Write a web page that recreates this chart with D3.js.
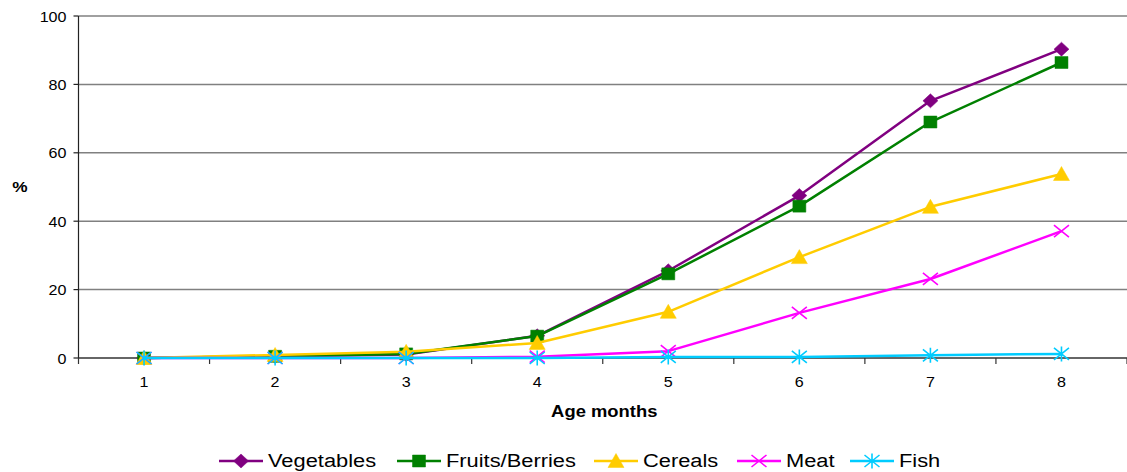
<!DOCTYPE html>
<html>
<head>
<meta charset="utf-8">
<script src="https://cdn.jsdelivr.net/npm/d3@7"></script>
<style>
  body { margin: 0; background: #fff; }
  svg { display: block; font-family: "Liberation Sans", Arial, sans-serif; }
</style>
</head>
<body>
<svg id="chart" width="1127" height="472"></svg>
<script>
const months = ['1', '2', '3', '4', '5', '6', '7', '8'];
const vegetables = [0, 0.5, 1, 6.5, 25.5, 47.5, 75.2, 90.3];
const fruitsBerries = [0, 0.5, 1.2, 6.4, 24.6, 44.4, 69, 86.4];
const cereals = [0, 0.9, 1.8, 4.4, 13.5, 29.5, 44.2, 53.8];
const meat = [0, 0, 0, 0.4, 2, 13.2, 23.1, 37.1];
const fish = [0, 0, 0, 0, 0.3, 0.3, 0.8, 1.2];
const yTicks = [0, 20, 40, 60, 80, 100];

const series = [
  { name: 'Vegetables', values: vegetables, color: '#800080', marker: 'diamond' },
  { name: 'Fruits/Berries', values: fruitsBerries, color: '#008000', marker: 'square' },
  { name: 'Cereals', values: cereals, color: '#FFCC00', marker: 'triangle' },
  { name: 'Meat', values: meat, color: '#FF00FF', marker: 'cross' },
  { name: 'Fish', values: fish, color: '#00CCFF', marker: 'star' }
];

const svg = d3.select('#chart');
const plotLeft = 78.5, plotRight = 1127, plotTop = 16, plotBottom = 358;
const sx = 1.15; // the original is stretched sideways a bit

const x = d3.scaleBand().domain(months).range([plotLeft, plotRight]);
const y = d3.scaleLinear().domain([0, 100]).range([plotBottom, plotTop]);

// text helper, stretched horizontally like the picture
function label(g, tx, ty, str, opts) {
  return g.append('text')
    .attr('transform', `translate(${tx},${ty}) scale(${sx},1)`)
    .attr('text-anchor', opts.anchor || 'middle')
    .attr('font-size', opts.size || 14)
    .attr('font-weight', opts.bold ? 'bold' : 'normal')
    .attr('fill', '#000')
    .text(str);
}

// grid
svg.append('g').selectAll('line').data(yTicks.filter(d => d > 0)).join('line')
  .attr('x1', plotLeft).attr('x2', plotRight)
  .attr('y1', d => y(d)).attr('y2', d => y(d))
  .attr('stroke', '#808080').attr('stroke-width', 1.5);

// y axis
const yAxis = svg.append('g');
yAxis.append('line').attr('x1', plotLeft).attr('x2', plotLeft).attr('y1', plotTop).attr('y2', plotBottom)
  .attr('stroke', '#222').attr('stroke-width', 1.2);
yAxis.selectAll('line.tick').data(yTicks).join('line').attr('class', 'tick')
  .attr('x1', plotLeft - 5).attr('x2', plotLeft).attr('y1', d => y(d)).attr('y2', d => y(d))
  .attr('stroke', '#222').attr('stroke-width', 1.2);
yTicks.forEach(d => label(yAxis, plotLeft - 12, y(d) + 5.5, d, { anchor: 'end', size: 14 }));
label(yAxis, 20, 192, '%', { bold: true, size: 15 });

// x axis
const xAxis = svg.append('g');
xAxis.append('line').attr('x1', plotLeft).attr('x2', plotRight).attr('y1', plotBottom).attr('y2', plotBottom)
  .attr('stroke', '#333').attr('stroke-width', 1.5);
const bounds = months.map(m => x(m)).concat([plotRight]);
xAxis.selectAll('line.tick').data(bounds).join('line').attr('class', 'tick')
  .attr('x1', d => d).attr('x2', d => d).attr('y1', plotBottom).attr('y2', plotBottom + 6)
  .attr('stroke', '#333').attr('stroke-width', 1.2);
months.forEach(m => label(xAxis, x(m) + x.bandwidth() / 2, plotBottom + 28.5, m, { size: 14 }));
label(xAxis, (plotLeft + plotRight) / 2 + 1.5, 417, 'Age months', { bold: true, size: 16 });

// markers
function markerPath(type) {
  switch (type) {
    case 'diamond': return 'M0,-7L7.5,0L0,7L-7.5,0Z';
    case 'square': return 'M-6.5,-6L6.5,-6L6.5,6L-6.5,6Z';
    case 'triangle': return 'M0,-7.5L8,6.5L-8,6.5Z';
    case 'cross': return 'M-7.5,-6L7.5,6M-7.5,6L7.5,-6';
    case 'star': return 'M-7.5,-6L7.5,6M-7.5,6L7.5,-6M0,-7.5L0,7.5';
  }
}
function drawMarker(g, type, color, cx, cy) {
  const filled = type !== 'cross' && type !== 'star';
  g.append('path').attr('d', markerPath(type))
    .attr('transform', `translate(${cx},${cy})`)
    .attr('fill', filled ? color : 'none')
    .attr('stroke', color)
    .attr('stroke-width', filled ? 0.5 : 1.6);
}

const line = d3.line()
  .x((d, i) => x(months[i]) + x.bandwidth() / 2)
  .y(d => y(d));

series.forEach(s => {
  const g = svg.append('g');
  g.append('path').datum(s.values).attr('d', line)
    .attr('fill', 'none').attr('stroke', s.color).attr('stroke-width', 2.5)
    .attr('stroke-linejoin', 'round');
  s.values.forEach((v, i) => drawMarker(g, s.marker, s.color, x(months[i]) + x.bandwidth() / 2, y(v)));
});

// legend
const legendX = [219, 397, 594, 737, 850];
const legend = svg.append('g');
series.forEach((s, i) => {
  const lx = legendX[i], ly = 461;
  legend.append('line').attr('x1', lx).attr('x2', lx + 44).attr('y1', ly).attr('y2', ly)
    .attr('stroke', s.color).attr('stroke-width', 2.5);
  drawMarker(legend, s.marker, s.color, lx + 22, ly);
  label(legend, lx + 49, 467, s.name, { anchor: 'start', size: 19 });
});
</script>
</body>
</html>
